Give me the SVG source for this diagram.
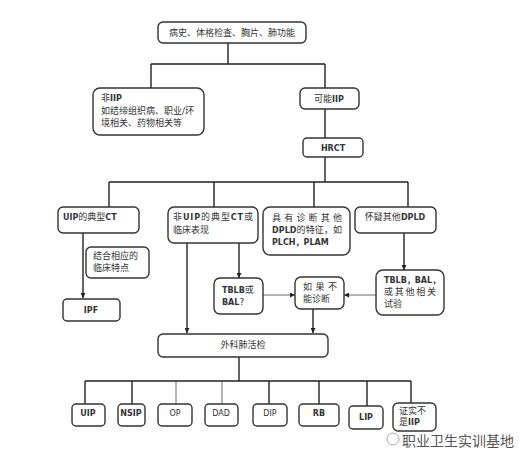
<svg xmlns="http://www.w3.org/2000/svg" width="519" height="456" viewBox="0 0 519 456">
<defs>
<marker id="ah" viewBox="0 0 10 10" refX="10" refY="5" markerWidth="5" markerHeight="5" orient="auto" markerUnits="userSpaceOnUse">
<path d="M0,0 L10,5 L0,10 z" fill="#222"/>
</marker>
<style>
.box{fill:#fff;stroke:#333;stroke-width:1.4}
.ln{fill:none;stroke:#222;stroke-width:1.4}
.thin{fill:none;stroke:#444;stroke-width:0.8}
text{font-family:"DejaVu Sans","Noto Sans CJK SC",sans-serif;font-size:9px;fill:#333}
.l{font-size:8px;font-weight:bold}
.c{text-anchor:middle}
.wm{font-family:"Noto Sans CJK SC",sans-serif;font-size:14px;fill:#555}
</style>
</defs>
<rect width="519" height="456" fill="#fff"/>
<g id="connectors">
<path class="ln" d="M228,43 V64 M151,64 H325 M151,64 V88 M325,64 V88 M325,109 V138"/>
<path class="ln" d="M325,157 V182 M109,182 H408 M109,182 V207 M214,182 V207 M314,182 V207 M408,182 V207"/>
<path class="ln" d="M83,233 V298" marker-end="url(#ah)"/>
<path class="ln" d="M239,243 V278" marker-end="url(#ah)"/>
<path class="ln" d="M404,233 V270" marker-end="url(#ah)"/>
<path class="thin" d="M263,295 H295" marker-end="url(#ah)"/>
<path class="thin" d="M376,295 H344" marker-end="url(#ah)"/>
<path class="ln" d="M187,243 V333" marker-end="url(#ah)"/>
<path class="ln" d="M313,309 V333" marker-end="url(#ah)"/>
<path class="ln" d="M239,357 V381 M85,381 H411 M85,381 V404 M132,381 V404 M269,381 V404 M319,381 V404 M367,381 V406 M411,381 V404"/>
<path class="thin" d="M176,381 V404 M222,381 V404"/>
</g>
<g id="n-top"><rect class="box" x="158" y="22" width="148" height="21" rx="5"/><text class="c" x="232" y="36">病史、体格检查、胸片、肺功能</text></g>
<g id="n-nonIIP"><rect class="box" x="93" y="88" width="111" height="47" rx="7"/>
<text x="101" y="101">非<tspan class="l">IIP</tspan></text>
<text x="101" y="114">如结缔组织病、职业/环</text>
<text x="101" y="126">境相关、药物相关等</text></g>
<g id="n-maybeIIP"><rect class="box" x="300" y="88" width="59" height="21" rx="5"/><text class="c" x="329" y="102">可能<tspan class="l">IIP</tspan></text></g>
<g id="n-hrct"><rect class="box" x="303" y="138" width="60" height="19" rx="4"/><text class="c l" x="333" y="151">HRCT</text></g>
<g id="n-uipct"><rect class="box" x="58" y="207" width="81" height="26" rx="5"/><text x="63" y="220"><tspan class="l">UIP</tspan>的典型<tspan class="l">CT</tspan></text></g>
<g id="n-nonuip"><rect class="box" x="168" y="207" width="90" height="36" rx="6"/>
<text x="173" y="220" textLength="80" lengthAdjust="spacing">非<tspan class="l">UIP</tspan>的典型<tspan class="l">CT</tspan>或</text>
<text x="173" y="233">临床表现</text></g>
<g id="n-other"><rect class="box" x="263" y="207" width="87" height="48" rx="7"/>
<text x="272" y="221" textLength="70" lengthAdjust="spacing">具有诊断其他</text>
<text x="272" y="233" textLength="70" lengthAdjust="spacing"><tspan class="l">DPLD</tspan>的特征，如</text>
<text x="272" y="245"><tspan class="l">PLCH，PLAM</tspan></text></g>
<g id="n-dpld"><rect class="box" x="355" y="207" width="81" height="26" rx="5"/><text class="c" x="395" y="220">怀疑其他<tspan class="l">DPLD</tspan></text></g>
<g id="n-clin"><rect class="box" x="86" y="247" width="63" height="31" rx="5"/>
<text x="93" y="259">结合相应的</text><text x="93" y="271">临床特点</text></g>
<g id="n-ipf"><rect class="box" x="63" y="299" width="57" height="22" rx="4"/><text class="c l" x="91" y="313">IPF</text></g>
<g id="n-tblb"><rect class="box" x="214" y="278" width="49" height="36" rx="6"/>
<text x="222" y="293"><tspan class="l">TBLB</tspan>或</text><text x="222" y="305"><tspan class="l">BAL</tspan>?</text></g>
<g id="n-ifnot"><rect class="box" x="295" y="277" width="49" height="32" rx="6"/>
<text x="303" y="290" textLength="34" lengthAdjust="spacing">如果不</text><text x="303" y="302">能诊断</text></g>
<g id="n-tblb2"><rect class="box" x="376" y="270" width="68" height="45" rx="7"/>
<text x="384" y="283"><tspan class="l">TBLB，BAL，</tspan></text>
<text x="384" y="295" textLength="52" lengthAdjust="spacing">或其他相关</text>
<text x="384" y="307">试验</text></g>
<g id="n-surg"><rect class="box" x="158" y="334" width="170" height="23" rx="5"/><text class="c" x="243" y="348">外科肺活检</text></g>
<g id="n-uip"><rect class="box" x="72" y="404" width="33" height="22" rx="4"/><text class="c l" x="88" y="416">UIP</text></g>
<g id="n-nsip"><rect class="box" x="118" y="404" width="27" height="22" rx="4"/><text class="c l" x="131" y="416">NSIP</text></g>
<g id="n-op"><rect class="box" x="158" y="404" width="34" height="22" rx="4"/><text class="c" x="175" y="416" style="font-size:8px">OP</text></g>
<g id="n-dad"><rect class="box" x="205" y="404" width="33" height="22" rx="4"/><text class="c" x="221" y="416" style="font-size:8px">DAD</text></g>
<g id="n-dip"><rect class="box" x="253" y="404" width="34" height="22" rx="4"/><text class="c" x="270" y="416" style="font-size:8px">DIP</text></g>
<g id="n-rb"><rect class="box" x="299" y="404" width="40" height="22" rx="4"/><text class="c l" x="319" y="416">RB</text></g>
<g id="n-lip"><rect class="box" x="349" y="406" width="34" height="23" rx="4"/><text class="c l" x="366" y="420">LIP</text></g>
<g id="n-notiip"><rect class="box" x="393" y="403" width="43" height="28" rx="5"/>
<text x="399" y="414">证实不</text><text x="399" y="425">是<tspan class="l">IIP</tspan></text></g>
<g id="watermark">
<circle cx="393" cy="439" r="6" fill="none" stroke="#aaa" stroke-width="1"/>
<text class="wm" x="402" y="446">职业卫生实训基地</text>
</g>
</svg>
